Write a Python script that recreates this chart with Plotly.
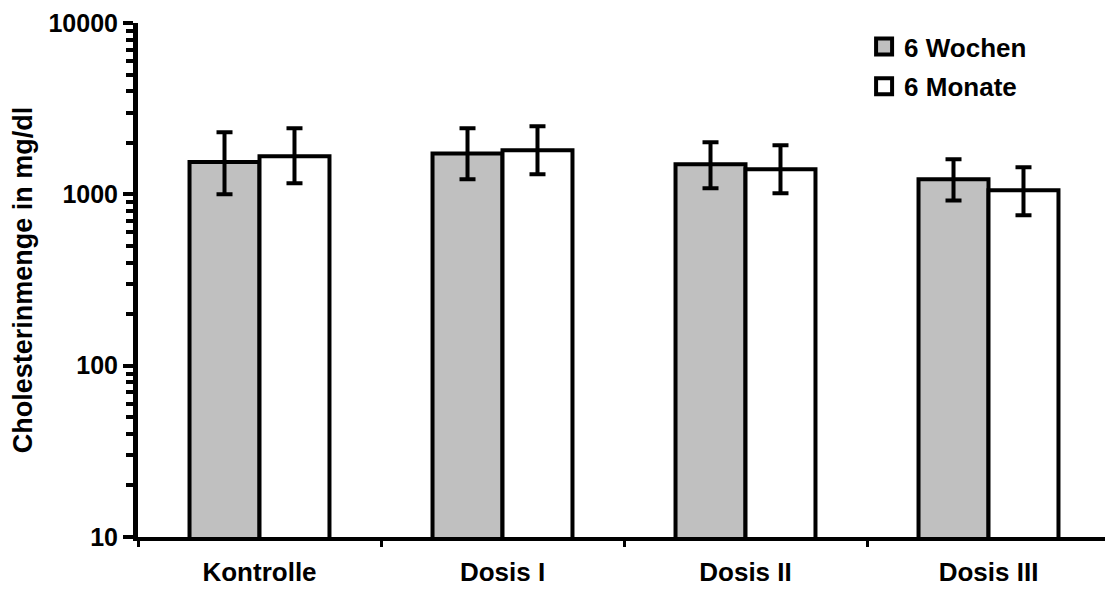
import plotly.graph_objects as go

categories = ["Kontrolle", "Dosis I", "Dosis II", "Dosis III"]

wochen_values = [1545, 1733, 1496, 1223]
wochen_err_plus = [755, 697, 517, 378]
wochen_err_minus = [545, 510, 412, 301]

monate_values = [1668, 1807, 1400, 1055]
monate_err_plus = [762, 688, 532, 385]
monate_err_minus = [508, 498, 387, 301]

y_tick_vals = [10, 100, 1000, 10000]
y_tick_text = ["10", "100", "1000", "10000"]

series_names = ["6 Wochen", "6 Monate"]
series_colors = ["#C0C0C0", "#FFFFFF"]

FONT = "Liberation Sans, Arial, sans-serif"

fig = go.Figure()
fig.add_trace(go.Bar(
    name=series_names[0], x=categories, y=wochen_values,
    marker=dict(color=series_colors[0], line=dict(color="black", width=4)),
    error_y=dict(type="data", array=wochen_err_plus, arrayminus=wochen_err_minus,
                 color="black", thickness=4, width=8),
    showlegend=False,
))
fig.add_trace(go.Bar(
    name=series_names[1], x=categories, y=monate_values,
    marker=dict(color=series_colors[1], line=dict(color="black", width=4)),
    error_y=dict(type="data", array=monate_err_plus, arrayminus=monate_err_minus,
                 color="black", thickness=4, width=8),
    showlegend=False,
))
# legend proxies (square symbols like the original legend keys)
for i, (nm, col) in enumerate(zip(series_names, series_colors)):
    fig.add_trace(go.Scatter(
        name=nm, x=[categories[0]], y=[None], mode="markers",
        marker=dict(symbol="square", size=16, color=col,
                    line=dict(color="black", width=4)),
        legendgroup=str(i), showlegend=True, hoverinfo="skip",
    ))

# page body has an 8px margin: figure placed at (8, 8) in the window
fig.update_layout(
    width=1105, height=581,
    margin=dict(l=130, r=3, t=15, b=52),
    paper_bgcolor="white", plot_bgcolor="white",
    barmode="group", bargap=0.424, bargroupgap=0,
    font=dict(family=FONT, size=26, color="black", weight="bold"),
    showlegend=True,
    legend=dict(x=0.747, y=1.0, xanchor="left", yanchor="top",
                bgcolor="rgba(0,0,0,0)", font=dict(size=26, weight="bold"),
                traceorder="grouped", tracegroupgap=3),
    xaxis=dict(
        automargin=False,
        showline=True, linecolor="black", linewidth=4,
        ticks="outside", tickson="boundaries", ticklen=6, tickwidth=3, tickcolor="black",
        ticklabelstandoff=9,
        tickfont=dict(size=26, weight="bold"),
        showgrid=False, zeroline=False,
    ),
    yaxis=dict(
        automargin=False,
        type="log", range=[1, 4],
        showline=True, linecolor="black", linewidth=5,
        tickvals=y_tick_vals, ticktext=y_tick_text,
        ticks="outside", ticklen=10, tickwidth=4, tickcolor="black",
        ticklabelstandoff=0,
        tickfont=dict(size=25, weight="bold"),
        minor=dict(ticks="outside", ticklen=7, tickwidth=4, tickcolor="black",
                   dtick="D1", showgrid=False),
        showgrid=False, zeroline=False,
        title=dict(text="Cholesterinmenge in mg/dl", font=dict(size=27, weight="bold"),
                   standoff=10),
    ),
)

fig.write_html("out.html")
